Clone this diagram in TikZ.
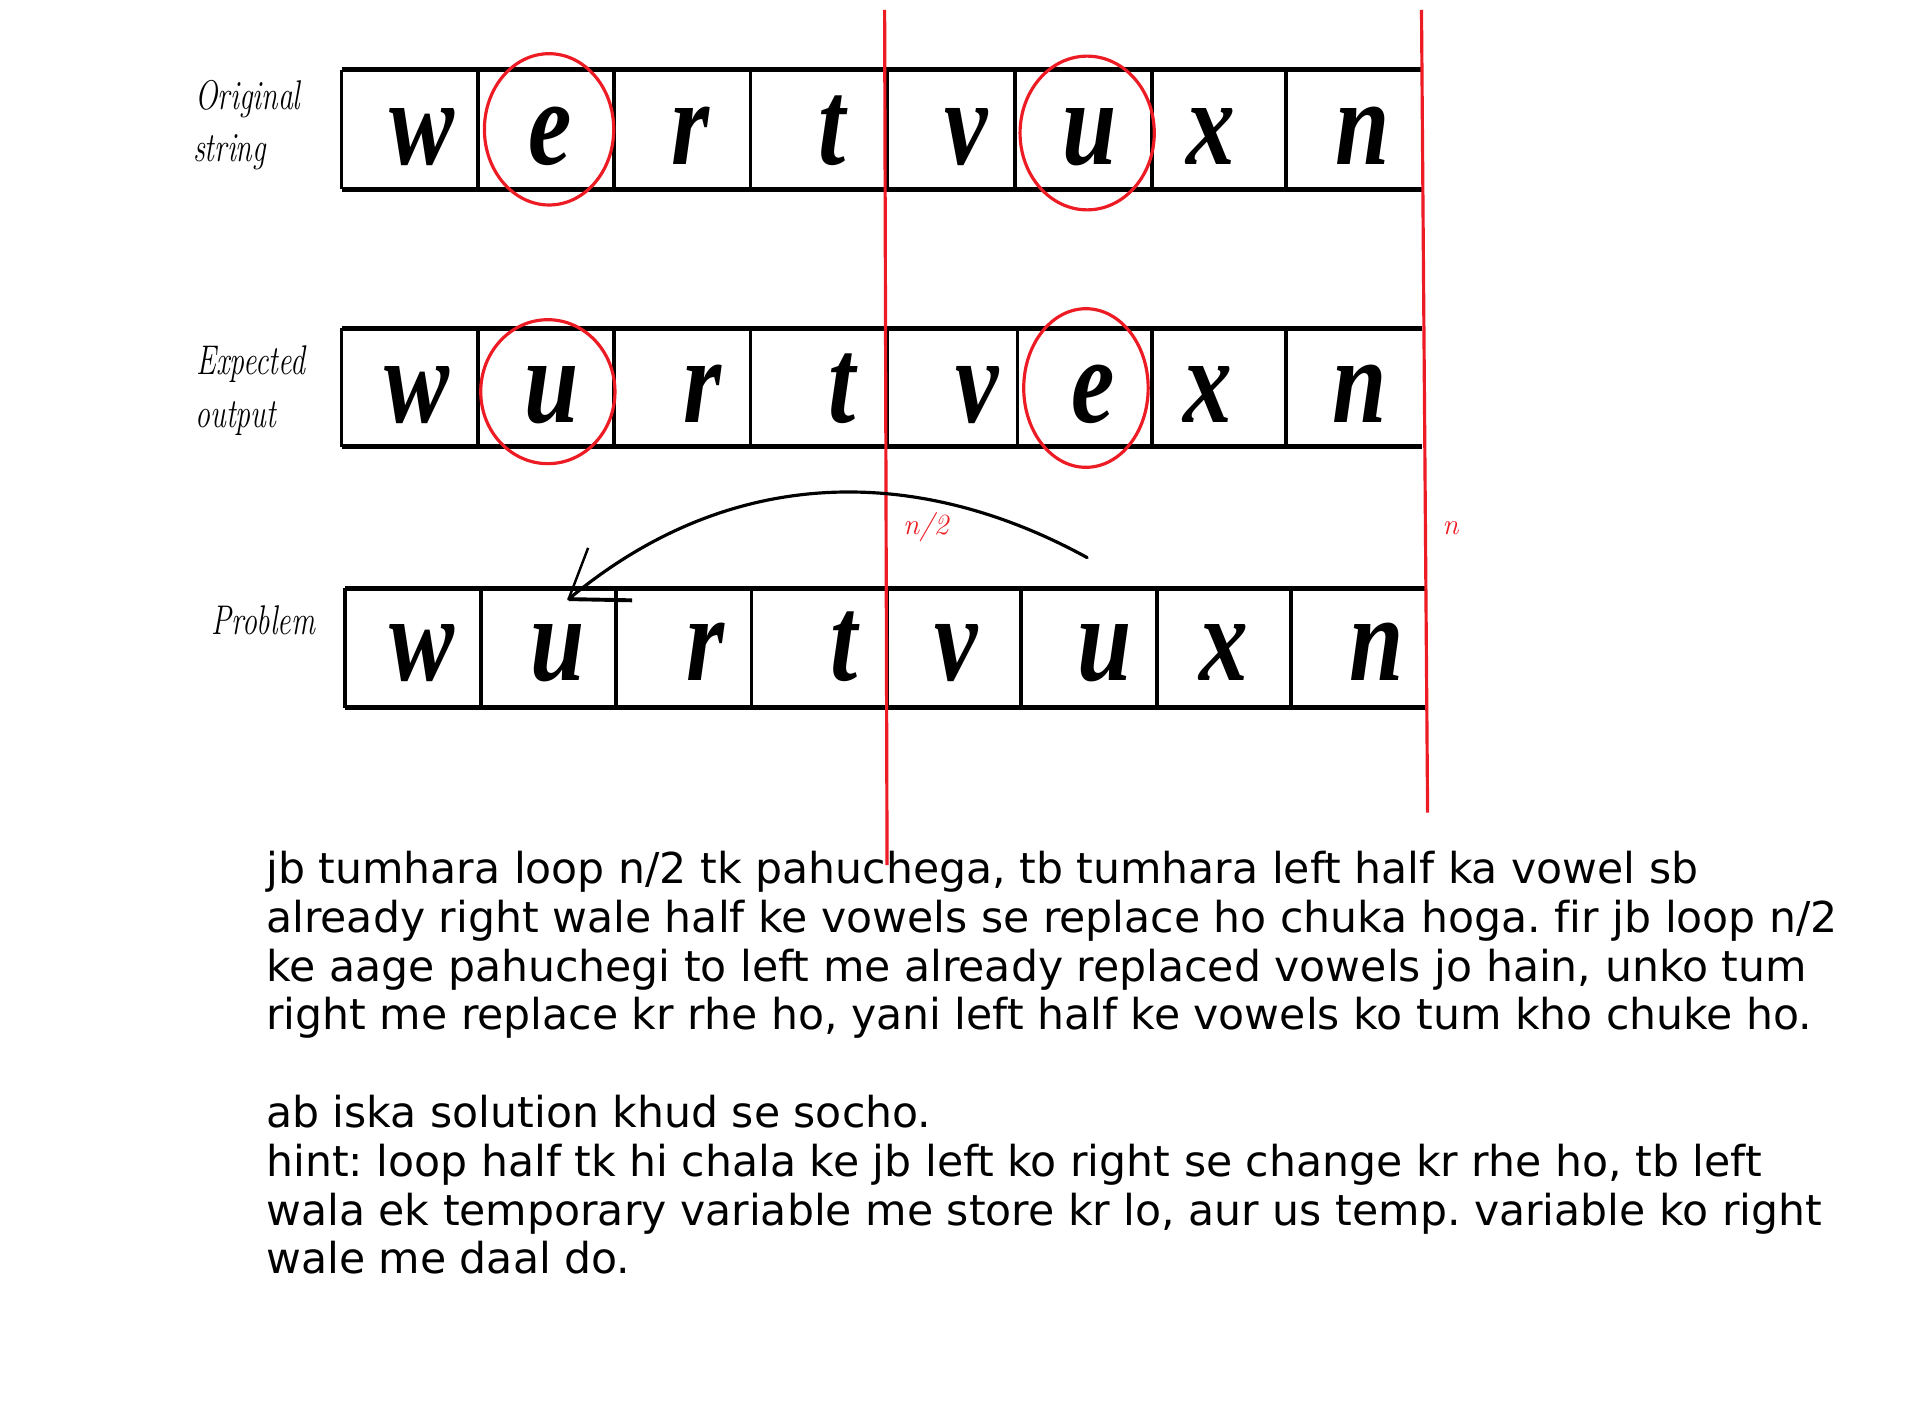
\documentclass[tikz,border=0pt]{standalone}
\usepackage{fontspec}
\usepackage{graphicx}
\newfontfamily\bodyfont[Ligatures=NoCommon]{DejaVu Sans}
\newfontfamily\cellfont{Liberation Serif}
\definecolor{paintred}{RGB}{237,28,36}
\newcommand{\cellchar}[1]{\scalebox{0.8}[1]{\cellfont\fontsize{100}{100}\selectfont\bfseries\itshape #1}}
\newcommand{\handlabel}[1]{\scalebox{0.72}[1]{\fontsize{34}{34}\selectfont\itshape #1}}
\tikzset{
  boxline/.style={line width=4pt, black},
  divline/.style={line width=3pt, black},
  redline/.style={line width=2.6pt, paintred},
  redring/.style={line width=2.6pt, paintred},
  letter/.style={anchor=base, inner sep=0pt},
  lbl/.style={anchor=base west, inner sep=0pt},
  bodyline/.style={anchor=base west, inner sep=0pt, font=\bodyfont\fontsize{34.9}{40}\selectfont\frenchspacing},
  redlbl/.style={anchor=base west, inner sep=0pt, text=paintred, font=\fontsize{24}{24}\selectfont\itshape}
}
\begin{document}
\begin{tikzpicture}[x=1pt,y=-1pt]
\useasboundingbox[fill=white] (0,0) rectangle (1567,1148);

% ---------- row 1 : original string ----------
\draw[divline] (280,57) -- (280,155);
\foreach \xx in {392,503,615,727,832,944,1054}{\draw[divline] (\xx,57) -- (\xx,155);}
\draw[boxline] (280,57) -- (1165,57);
\draw[boxline] (280,155) -- (1165,155);
\node[letter] (a1) at (346,135) {\cellchar{w}};
\node[letter] (a2) at (451,135) {\cellchar{e}};
\node[letter] (a3) at (566,135) {\cellchar{r}};
\node[letter] (a4) at (682,135) {\cellchar{t}};
\node[letter] (a5) at (792,135) {\cellchar{v}};
\node[letter] (a6) at (893,135) {\cellchar{u}};
\node[letter] (a7) at (992,135) {\cellchar{x}};
\node[letter] (a8) at (1117,135) {\cellchar{n}};

% ---------- row 2 : expected output ----------
\draw[divline] (280,269) -- (280,366);
\foreach \xx in {392,503,615,727,834,944,1054}{\draw[divline] (\xx,269) -- (\xx,366);}
\draw[boxline] (280,269) -- (1165,269);
\draw[boxline] (280,366) -- (1165,366);
\node[letter] (b1) at (342,346) {\cellchar{w}};
\node[letter] (b2) at (452,346) {\cellchar{u}};
\node[letter] (b3) at (576,346) {\cellchar{r}};
\node[letter] (b4) at (690,346) {\cellchar{t}};
\node[letter] (b5) at (801,346) {\cellchar{v}};
\node[letter] (b6) at (896,346) {\cellchar{e}};
\node[letter] (b7) at (990,346) {\cellchar{x}};
\node[letter] (b8) at (1114,346) {\cellchar{n}};

% ---------- row 3 : problem ----------
\draw[divline] (283,482) -- (283,580);
\foreach \xx in {394,505,616,727,837,948,1058}{\draw[divline] (\xx,482) -- (\xx,580);}
\draw[boxline] (283,482) -- (1168,482);
\draw[boxline] (283,580) -- (1168,580);
\node[letter] (c1) at (346,558) {\cellchar{w}};
\node[letter] (c2) at (457,558) {\cellchar{u}};
\node[letter] (c3) at (578,558) {\cellchar{r}};
\node[letter] (c4) at (692,558) {\cellchar{t}};
\node[letter] (c5) at (784,558) {\cellchar{v}};
\node[letter] (c6) at (905,558) {\cellchar{u}};
\node[letter] (c7) at (1003,558) {\cellchar{x}};
\node[letter] (c8) at (1128,558) {\cellchar{n}};

% ---------- row labels ----------
\node[lbl] (l1) at (160,90) {\handlabel{Original}};
\node[lbl] (l2) at (158,132) {\handlabel{string}};
\node[lbl] (l3) at (161,307) {\handlabel{Expected}};
\node[lbl] (l4) at (160,350) {\handlabel{output}};
\node[lbl] (l5) at (173,520) {\handlabel{Problem}};

% ---------- red circles ----------
\draw[redring] (450,106) ellipse [x radius=53, y radius=62];
\draw[redring] (891,109) ellipse [x radius=55, y radius=63];
\draw[redring] (449,321) ellipse [x radius=55, y radius=59];
\draw[redring] (890,318) ellipse [x radius=51, y radius=65];

% ---------- red vertical markers ----------
\coordinate (h1) at (725,8);
\coordinate (h2) at (727,709);
\coordinate (m1) at (1165,8);
\coordinate (m2) at (1170,666);
\draw[redline] (h1) -- (h2);
\draw[redline] (m1) -- (m2);
\node[redlbl] (half) at (740,438) {n/2};
\node[redlbl] (full) at (1182,438) {n};

% ---------- arrow ----------
\coordinate (arrS) at (891,457);
\coordinate (arrT) at (466,491);
\coordinate (hd1) at (482,449);
\coordinate (hd2) at (518,492);
\draw[line width=2.6pt, line cap=round] (arrS) .. controls (760,385) and (605,375) .. (arrT);
\draw[line width=2pt] (arrT) -- (hd1);
\draw[line width=3.2pt] (arrT) -- (hd2);

% ---------- explanation ----------
\node[bodyline] (t1) at (218,724) {jb tumhara loop n/2 tk pahuchega, tb tumhara left half ka vowel sb};
\node[bodyline] (t2) at (218,764) {already right wale half ke vowels se replace ho chuka hoga. fir jb loop n/2};
\node[bodyline] (t3) at (218,804) {ke aage pahuchegi to left me already replaced vowels jo hain, unko tum};
\node[bodyline] (t4) at (218,844) {right me replace kr rhe ho, yani left half ke vowels ko tum kho chuke ho.};
\node[bodyline] (t5) at (218,924) {ab iska solution khud se socho.};
\node[bodyline] (t6) at (218,964) {hint: loop half tk hi chala ke jb left ko right se change kr rhe ho, tb left};
\node[bodyline] (t7) at (218,1004) {wala ek temporary variable me store kr lo, aur us temp. variable ko right};
\node[bodyline] (t8) at (218,1044) {wale me daal do.};
\end{tikzpicture}
\end{document}
